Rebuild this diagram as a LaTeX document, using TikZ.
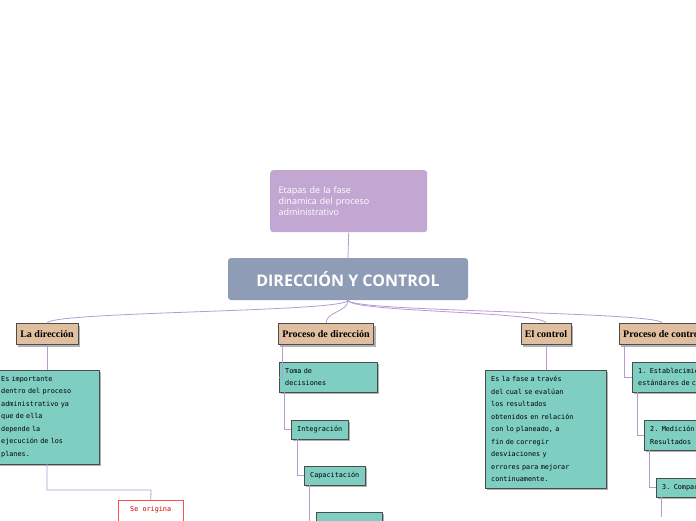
\documentclass[tikz,border=0pt]{standalone}
\usepackage{fontspec}
\usetikzlibrary{shadows,calc}
\setmainfont{Liberation Serif}
\setsansfont{Open Sans}
\setmonofont{DejaVu Sans Mono}
\definecolor{topc}{HTML}{C3A7D3}
\definecolor{mainc}{HTML}{8E9DB5}
\definecolor{catc}{HTML}{E0BFA0}
\definecolor{tealc}{HTML}{7FCEC2}
\definecolor{linec}{HTML}{B89AD0}
\begin{document}
\begin{tikzpicture}[x=1pt,y=-1pt,
  cat/.style={draw=black!70,fill=catc,font=\bfseries\fontsize{10}{11}\selectfont,inner sep=4pt,minimum height=21pt,
    drop shadow={shadow xshift=2pt,shadow yshift=-2pt,fill=black!60}},
  note/.style={draw=black!70,fill=tealc,font=\ttfamily\fontsize{6.8}{12.5}\selectfont,align=left,anchor=north west,inner sep=6pt,
    drop shadow={shadow xshift=2pt,shadow yshift=-2pt,fill=black!60}},
  link/.style={draw=linec,line width=0.8pt}]
\useasboundingbox (0,0) rectangle (696,520);
\clip (0,0) rectangle (696,520);
% Top
\node[fill=topc,rounded corners=3pt,text=white,font=\sffamily\fontsize{9}{11}\selectfont,align=left,anchor=north west,
  minimum width=157pt,minimum height=62pt,text width=140pt] (etapas) at (270,170) {Etapas de la fase\\dinamica del proceso\\administrativo};
\node[fill=mainc,rounded corners=3pt,text=white,font=\sffamily\bfseries\fontsize{16}{17}\selectfont,minimum width=240pt,minimum height=42pt] (main) at (348,279) {DIRECCIÓN Y CONTROL};
\draw[link] (etapas.south) -- (main.north);
% Categories
\node[cat] (dir) at (47,334) {La dirección};
\node[cat] (pdir) at (326,334) {Proceso de dirección};
\node[cat] (ctl) at (546,334) {El control};
\node[cat,anchor=west] (pctl) at (619,334) {Proceso de control};
\foreach \c in {dir,pdir,ctl,pctl}
  \draw[link] (main.south) .. controls ($(main.south)+(0,12)$) and ($(\c.north)+(0,-12)$) .. (\c.north);
% La dirección
\node[note,text width=92pt] (imp) at (-5,370) {Es importante\\dentro del proceso\\administrativo ya\\que de ella\\depende la\\ejecución de los\\planes.};
\draw[link] (dir.south) -- (imp.north -| dir.south);
\node[draw=red!70,fill=white,text=red!80!black,font=\ttfamily\fontsize{6.8}{8}\selectfont,anchor=north west,minimum width=65pt,minimum height=30pt,text depth=12pt] (orig) at (118,500) {Se origina};
\draw[link] (imp.south -| dir.south) |- (151,490) -- (orig.north);
% Proceso de dirección
\node[note,text width=86pt] (toma) at (279,362) {Toma de\\decisiones};
\node[note] (integ) at (291,420) {Integración};
\node[note] (capa) at (304,466) {Capacitación};
\node[note,minimum width=66pt,minimum height=20pt] (sig) at (316,512) {};
\draw[link] (pdir.south west)++(4,0) |- (toma.west);
\draw[link] (toma.south west)++(5,0) |- (integ.west);
\draw[link] (integ.south west)++(6,0) |- (capa.west);
\draw[link] (capa.south west)++(5,0) |- (sig.west);
% El control
\node[note,text width=109pt] (fase) at (485,370) {Es la fase a través\\del cual se evalúan\\los resultados\\obtenidos en relación\\con lo planeado, a\\fin de corregir\\desviaciones y\\errores para mejorar\\continuamente.};
\draw[link] (ctl.south) -- (fase.north -| ctl.south);
% Proceso de control
\node[note,text width=100pt] (est) at (632,362) {1. Establecimiento de\\estándares de control};
\node[note,text width=100pt] (med) at (644,420) {2. Medición de\\Resultados};
\node[note,text width=100pt] (comp) at (656,478) {3. Comparación};
\draw[link] (pctl.south west)++(5,0) |- (est.west);
\draw[link] (est.south west)++(5,0) |- (med.west);
\draw[link] (med.south west)++(5,0) |- (comp.west);
\draw[link] (comp.south west)++(5,0) -- ++(0,20);
\end{tikzpicture}
\end{document}
